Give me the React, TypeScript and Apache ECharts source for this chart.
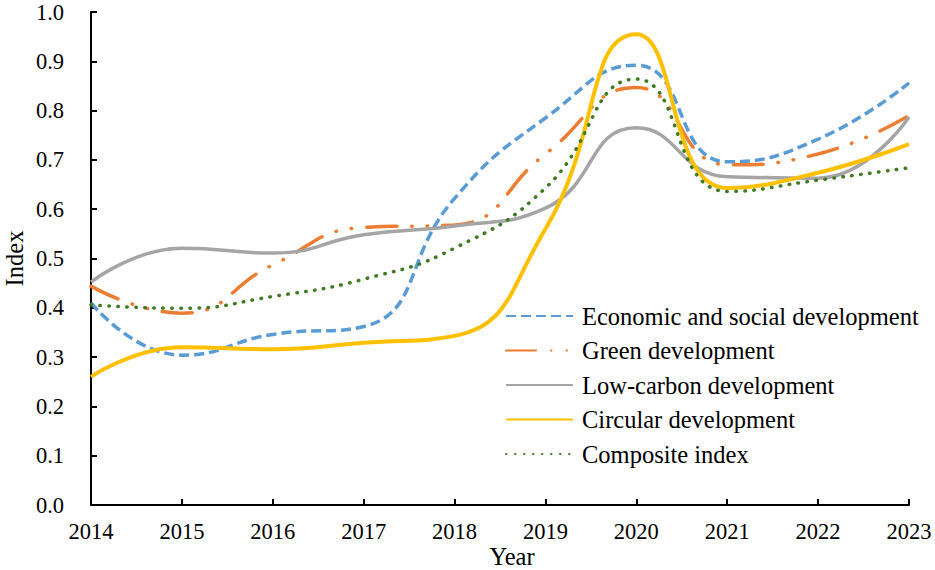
import React, { useEffect, useRef } from "react";
import * as echarts from "echarts";

const years = ["2014", "2015", "2016", "2017", "2018", "2019", "2020", "2021", "2022", "2023"];
const economic = [0.41, 0.304, 0.346, 0.362, 0.622, 0.785, 0.892, 0.696, 0.742, 0.856];
const green = [0.444, 0.389, 0.487, 0.563, 0.568, 0.712, 0.847, 0.69, 0.712, 0.79];
const lowCarbon = [0.452, 0.521, 0.511, 0.548, 0.566, 0.602, 0.765, 0.666, 0.663, 0.787];
const circular = [0.26, 0.32, 0.316, 0.329, 0.343, 0.56, 0.955, 0.643, 0.674, 0.732];
const composite = [0.406, 0.399, 0.423, 0.458, 0.521, 0.643, 0.864, 0.636, 0.659, 0.684];

const FONT = "Liberation Serif";

export default function App() {
  const ref = useRef<HTMLDivElement>(null);
  useEffect(() => {
    document.body.style.margin = "0";
    const chart = echarts.init(ref.current!, null, { renderer: "svg" });
    const mk = (name: string, data: number[], color: string, width: number, type: any, cap: any = "butt") => ({
      name,
      type: "line",
      data,
      smooth: 0.5,
      symbol: "none",
      lineStyle: { color, width, type, cap },
      itemStyle: { color },
    });
    chart.setOption({
      animation: false,
      textStyle: { fontFamily: FONT },
      grid: { left: 91, right: 26, top: 12, bottom: 65, containLabel: false, outerBoundsMode: "none" },
      legend: {
        orient: "vertical",
        left: 505,
        top: 303.5,
        padding: 0,
        itemWidth: 67,
        itemHeight: 14,
        itemGap: 9.5,
        itemStyle: { opacity: 0 },
        textStyle: { fontFamily: FONT, fontSize: 24.5, color: "#000", lineHeight: 24, padding: [0, 0, 0, 4] },
        data: [
          "Economic and social development",
          "Green development",
          "Low-carbon development",
          "Circular development",
          "Composite index",
        ],
      },
      xAxis: {
        type: "category",
        data: years,
        boundaryGap: false,
        name: "Year",
        nameLocation: "middle",
        nameGap: 39,
        nameMoveOverlap: false,
        nameTextStyle: { fontFamily: FONT, fontSize: 24.5, lineHeight: 24, color: "#000", padding: [0, 0, 0, 24] },
        axisLine: { lineStyle: { color: "#000", width: 2 } },
        axisTick: { inside: true, length: 6, lineStyle: { color: "#000", width: 2 } },
        axisLabel: { fontFamily: FONT, fontSize: 22.5, color: "#000", margin: 15 },
        splitLine: { show: false },
      },
      yAxis: {
        type: "value",
        min: 0,
        max: 1,
        interval: 0.1,
        name: "Index",
        nameLocation: "middle",
        nameGap: 64,
        nameMoveOverlap: false,
        nameTextStyle: { fontFamily: FONT, fontSize: 24.5, color: "#000" },
        axisLine: { show: true, lineStyle: { color: "#000", width: 2 } },
        axisTick: { show: true, inside: true, length: 6, lineStyle: { color: "#000", width: 2 } },
        axisLabel: { fontFamily: FONT, fontSize: 22.5, color: "#000", margin: 27, formatter: (v: number) => v.toFixed(1) },
        splitLine: { show: false },
      },
      series: [
        mk("Economic and social development", economic, "#5B9BD5", 3.5, [10, 5]),
        mk("Green development", green, "#ED7D31", 3.5, [30, 15, 0.5, 15, 0.5, 15], "round"),
        mk("Low-carbon development", lowCarbon, "#A5A5A5", 3.5, "solid"),
        mk("Circular development", circular, "#FFC000", 4, "solid"),
        mk("Composite index", composite, "#3F7A22", 3.5, [0.5, 8.5], "round"),
      ],
    });
    return () => chart.dispose();
  }, []);
  return <div ref={ref} style={{ width: 935, height: 570 }} />;
}
